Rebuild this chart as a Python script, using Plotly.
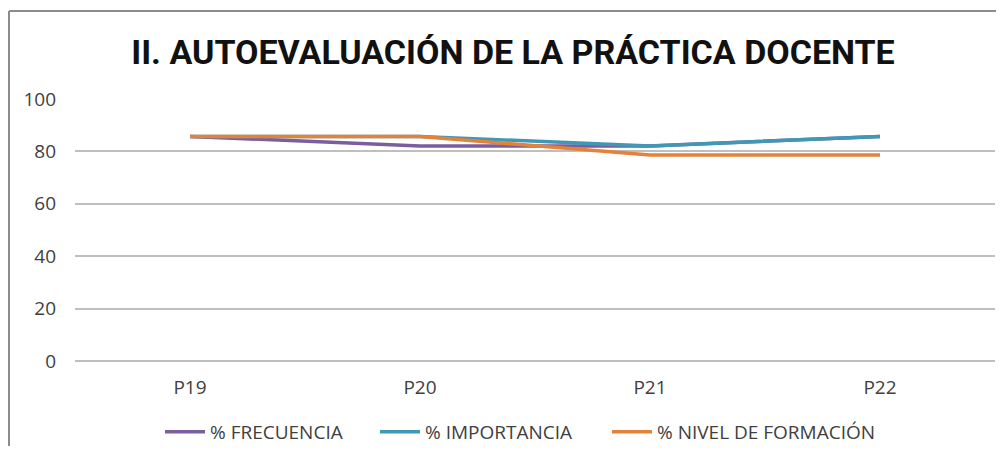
import plotly.graph_objects as go

categories = ["P19", "P20", "P21", "P22"]
frecuencia = [85.7, 82.1, 82.1, 85.7]
importancia = [85.7, 85.7, 82.1, 85.7]
nivel_formacion = [85.7, 85.7, 78.6, 78.6]
y_ticks = [0, 20, 40, 60, 80, 100]

# page body adds an 8px margin around the figure:
# reference pixel (x, y) -> figure pixel (x-8, y-8)
OFF = 8
W, H = 1004 - 2 * OFF, 454 - 2 * OFF
L = 75 - OFF
T = 99 - OFF
B = H - (361 - OFF)
R = W - (995 - OFF)
pw, ph = W - L - R, H - T - B

def px(x):
    return (x - OFF - L) / pw

def py(y):
    return ((H - B) - (y - OFF)) / ph

fig = go.Figure()
series = [
    ("% FRECUENCIA", frecuencia, "#7B5E9F", "legend", 160),
    ("% IMPORTANCIA", importancia, "#4198B4", "legend2", 375),
    ("% NIVEL DE FORMACIÓN", nivel_formacion, "#E5823A", "legend3", 607),
]
legend_common = dict(orientation="h", xanchor="left", yanchor="middle", y=py(432),
                     font=dict(size=19, color="#404040"), itemwidth=40,
                     bgcolor="rgba(0,0,0,0)")
legends = {}
for name, vals, col, lg, lx in series:
    fig.add_trace(go.Scatter(x=categories, y=vals, name=name, mode="lines",
                             line=dict(color=col, width=3.5), legend=lg))
    legends[lg] = dict(legend_common, x=px(lx))

fig.update_layout(
    width=W, height=H,
    margin=dict(l=L, r=R, t=T, b=B, autoexpand=False),
    paper_bgcolor="white", plot_bgcolor="white",
    font=dict(family="Open Sans, sans-serif", color="#404040", size=19),
    title=dict(text="<b>II. AUTOEVALUACIÓN DE LA PRÁCTICA DOCENTE</b>",
               x=(513 - OFF) / W, xanchor="center", y=1 - (52 - OFF) / H, yanchor="middle",
               font=dict(family="Roboto, sans-serif", size=34, color="#111111")),
    xaxis=dict(showgrid=False, showline=False, ticks="", zeroline=False,
               tickfont=dict(size=19, color="#404040"), range=[-0.5, 3.5],
               ticklabelstandoff=13),
    yaxis=dict(range=[0, 100], tickvals=y_ticks, showgrid=True, gridcolor="#BFBFBF",
               gridwidth=1.5, zeroline=True, zerolinecolor="#BFBFBF", zerolinewidth=1.5,
               showline=False, ticks="",
               tickfont=dict(size=19, color="#404040"), ticklabelstandoff=18),
    showlegend=True,
    **legends,
)
# chart border (top and left edges visible)
fig.add_shape(type="line", xref="paper", yref="paper",
              x0=px(9), x1=px(1010), y0=py(11), y1=py(11),
              line=dict(color="#8C8C8C", width=2))
fig.add_shape(type="line", xref="paper", yref="paper",
              x0=px(9), x1=px(9), y0=py(11), y1=py(470),
              line=dict(color="#8C8C8C", width=2))

fig.write_html("out.html")
